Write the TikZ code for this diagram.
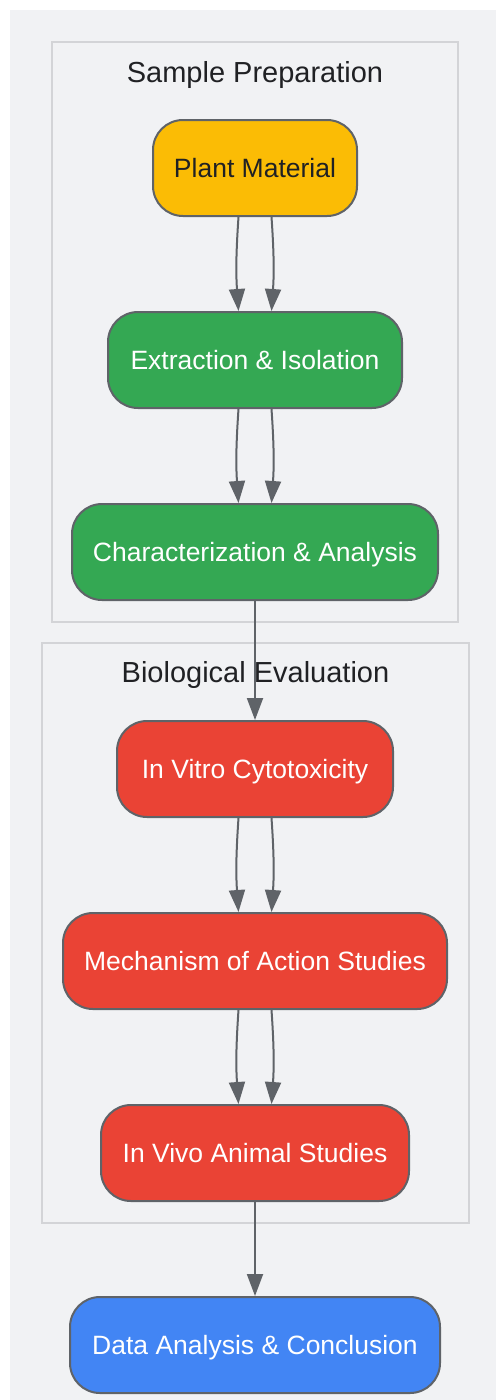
\documentclass[tikz,border=0pt]{standalone}
\usepackage{fontspec}
\setmainfont{Liberation Sans}
\usepackage{tikz}
\usetikzlibrary{positioning,backgrounds,arrows.meta}
\definecolor{panel}{HTML}{F1F2F4}
\definecolor{frame}{HTML}{D3D4D7}
\definecolor{edge}{HTML}{5F6368}
\definecolor{plant}{HTML}{FBBC05}
\definecolor{prep}{HTML}{34A853}
\definecolor{bio}{HTML}{EA4335}
\definecolor{result}{HTML}{4285F4}
\definecolor{ink}{HTML}{202124}

\begin{document}
\begin{tikzpicture}[x=1pt,y=-1pt,
  box/.style={rounded corners=30pt,draw=edge,line width=2pt,minimum height=96pt,inner sep=0pt,
    text=white,font=\fontsize{26.5}{30}\selectfont,text height=19pt,text depth=0pt},
  cluster/.style={draw=frame,line width=2pt,fill=panel,inner sep=0pt},
  title/.style={text=ink,font=\fontsize{29}{34}\selectfont,anchor=base,inner sep=0pt},
  flow/.style={draw=edge,line width=2pt,-{Triangle[length=22pt,width=16pt]}}]
\useasboundingbox (0,0) rectangle (496,1400);
\fill[panel] (10,10) rectangle (496,1400);

% groups
\node (prepbox) [cluster,minimum width=406pt,minimum height=580pt] at (255,332) {};
\node (biobox) [cluster,minimum width=427pt,minimum height=580pt] at (255.5,933) {};
\node (preptitle) [title] at (255,82) {Sample Preparation};
\node (biotitle) [title] at (255.5,682) {Biological Evaluation};

% steps
\node (plant) [box,fill=plant,text=ink,minimum width=204pt] at (255,168) {Plant Material};
\node (extract) [box,fill=prep,minimum width=294pt] at (255,360) {Extraction \& Isolation};
\node (charact) [box,fill=prep,minimum width=366pt] at (255,552) {Characterization \& Analysis};
\node (vitro) [box,fill=bio,minimum width=276pt] at (255,769) {In Vitro Cytotoxicity};
\node (mech) [box,fill=bio,minimum width=384pt] at (255,961) {Mechanism of Action Studies};
\node (vivo) [box,fill=bio,minimum width=308pt] at (255,1153) {In Vivo Animal Studies};
\node (data) [box,fill=result,minimum width=370pt] at (255,1345) {Data Analysis \& Conclusion};

% links
\draw[flow] ([xshift=-16.5pt]plant.south) to[bend right=4] ([xshift=-16.5pt]extract.north);
\draw[flow] ([xshift=16.5pt]plant.south) to[bend left=4] ([xshift=16.5pt]extract.north);
\draw[flow] ([xshift=-16.5pt]extract.south) to[bend right=4] ([xshift=-16.5pt]charact.north);
\draw[flow] ([xshift=16.5pt]extract.south) to[bend left=4] ([xshift=16.5pt]charact.north);
\draw[flow] (charact) -- (vitro);
\draw[flow] ([xshift=-16.5pt]vitro.south) to[bend right=4] ([xshift=-16.5pt]mech.north);
\draw[flow] ([xshift=16.5pt]vitro.south) to[bend left=4] ([xshift=16.5pt]mech.north);
\draw[flow] ([xshift=-16.5pt]mech.south) to[bend right=4] ([xshift=-16.5pt]vivo.north);
\draw[flow] ([xshift=16.5pt]mech.south) to[bend left=4] ([xshift=16.5pt]vivo.north);
\draw[flow] (vivo) -- (data);
\end{tikzpicture}
\end{document}
